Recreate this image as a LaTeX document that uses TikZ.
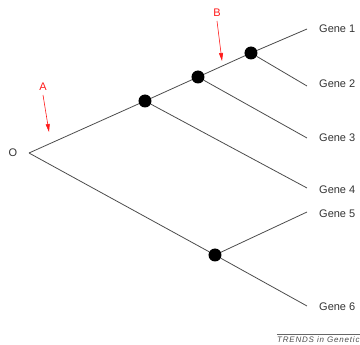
\documentclass[tikz,border=0pt]{standalone}
\usepackage{fontspec}
\setmainfont{Liberation Sans}
\usetikzlibrary{arrows.meta}
\definecolor{linegray}{gray}{0.3}
\definecolor{markred}{rgb}{1,0.1,0.1}
\tikzset{
  branch/.style={draw=linegray, line width=0.8pt},
  dotnode/.style={circle, fill=black, inner sep=0pt, minimum size=13pt},
  genelabel/.style={anchor=west, inner sep=0pt, font=\fontsize{11}{12}\selectfont, text=black!80},
  marklabel/.style={inner sep=0pt, font=\fontsize{11}{12}\selectfont, text=markred},
  markarrow/.style={draw=markred, line width=0.6pt, -{Triangle[length=8pt,width=4pt]}}
}
\begin{document}
\begin{tikzpicture}[x=1pt,y=-1pt]
\useasboundingbox (0,0) rectangle (360,345);
% root and internal nodes
\coordinate (root) at (29,153);
\node[genelabel, anchor=center] (olab) at (13,153) {O};
\node[dotnode] (n1) at (145,101) {};
\node[dotnode] (n2) at (198,77) {};
\node[dotnode] (n3) at (251,53) {};
\node[dotnode] (n4) at (215,255) {};
% leaf ends
\coordinate (g1) at (307,29);
\coordinate (g2) at (307,86);
\coordinate (g3) at (307,138);
\coordinate (g4) at (307,188);
\coordinate (g5) at (307,212);
\coordinate (g6) at (307,306);
% branches
\draw[branch] (root) -- (n1);
\draw[branch] (root) -- (n4);
\draw[branch] (n1) -- (n2);
\draw[branch] (n1) -- (g4);
\draw[branch] (n2) -- (n3);
\draw[branch] (n2) -- (g3);
\draw[branch] (n3) -- (g1);
\draw[branch] (n3) -- (g2);
\draw[branch] (n4) -- (g5);
\draw[branch] (n4) -- (g6);
% gene labels
\node[genelabel] (l1) at (319,29) {Gene 1};
\node[genelabel] (l2) at (319,84) {Gene 2};
\node[genelabel] (l3) at (319,138) {Gene 3};
\node[genelabel] (l4) at (319,190) {Gene 4};
\node[genelabel] (l5) at (319,214) {Gene 5};
\node[genelabel] (l6) at (319,307) {Gene 6};
% markers A and B
\node[marklabel] (A) at (43,87) {A};
\coordinate (atip) at (49,132);
\draw[markarrow] ([yshift=-4pt]A.south) -- (atip);
\node[marklabel] (B) at (217,13) {B};
\coordinate (btip) at (222,61);
\draw[markarrow] ([yshift=-4pt]B.south) -- (btip);
% footer
\coordinate (fl) at (277,334);
\coordinate (fr) at (360,334);
\draw[draw=black!60, line width=0.5pt] (fl) -- (fr);
\begin{scope}
\clip (0,0) rectangle (360,345);
\node[anchor=west, inner sep=0pt, text=black!70] (footer) at (277,340)
  {\fontsize{8}{9}\selectfont\itshape\addfontfeature{LetterSpace=10}TRENDS in Genetics};
\end{scope}
\end{tikzpicture}
\end{document}
